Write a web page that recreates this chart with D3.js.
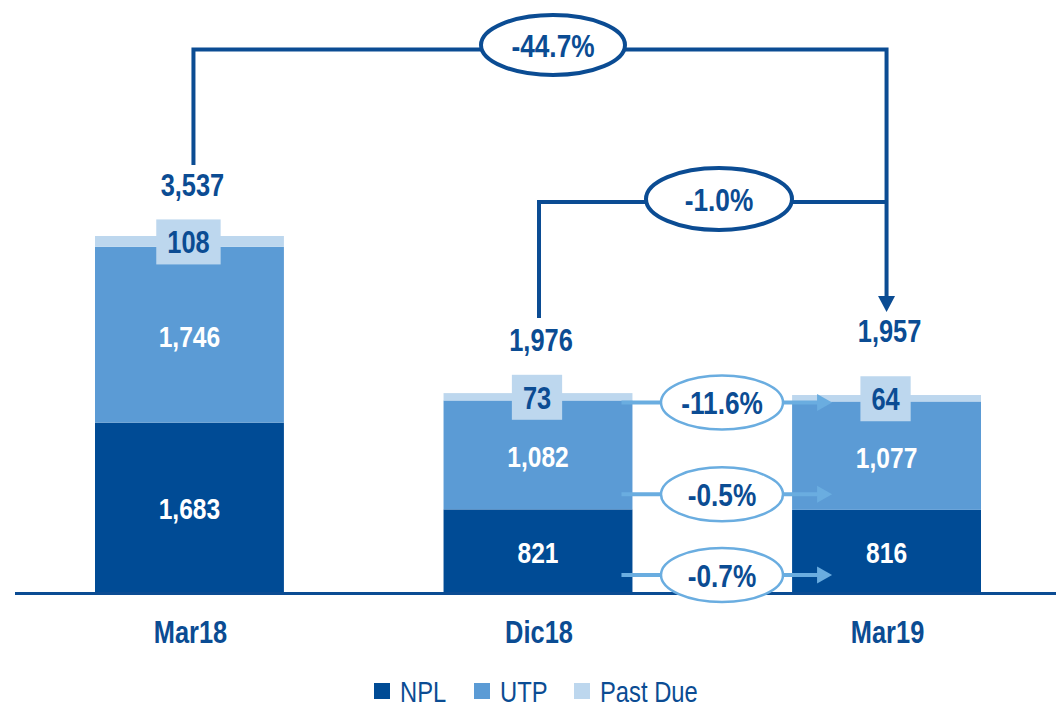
<!DOCTYPE html>
<html>
<head>
<meta charset="utf-8">
<script src="https://cdn.jsdelivr.net/npm/d3@7"></script>
<style>
  body { margin: 0; background: #fff; }
  svg text { font-family: "Liberation Sans Narrow", "Arial Narrow", "Liberation Sans", sans-serif; }
</style>
</head>
<body>
<div id="chart"></div>
<script>
//Data
const categories = ["Mar18", "Dic18", "Mar19"];
const npl = [1683, 821, 816];
const utp = [1746, 1082, 1077];
const pastDue = [108, 73, 64];
const totals = [3537, 1976, 1957];
const longChange = "-44.7%";   // Mar18 -> Mar19
const shortChange = "-1.0%";   // Dic18 -> Mar19
const partChanges = ["-11.6%", "-0.5%", "-0.7%"]; // Past Due, UTP, NPL
const seriesNames = ["NPL", "UTP", "Past Due"];

//Styles
const dark = "#0B4C93", mid = "#5B9BD5", light = "#BDD7EE", arrowBlue = "#6AADE0";
const colors = [ "#004B95", mid, light ];
const squeeze = 0.82; // no narrow font installed, so squash text horizontally

let width = 1056, height = 709;
let svg = d3.select("#chart").append("svg")
  .attr("width", width).attr("height", height);

// move x/y into a transform so the text can be squeezed around its anchor
function narrow(sel) {
  sel.each(function() {
    let t = d3.select(this);
    let tx = +t.attr("x"), ty = +t.attr("y");
    t.attr("x", 0).attr("y", 0)
      .attr("transform", "translate(" + tx + "," + ty + ") scale(" + squeeze + ",1)");
  });
}

let x = d3.scaleBand().domain(categories).range([95, 981]).paddingInner(0.458).paddingOuter(0);
let y = d3.scaleLinear().domain([0, 3537]).range([592, 236]);
let cx = c => x(c) + x.bandwidth() / 2;

//Stack
let rows = categories.map((c, i) => ({cat: c, NPL: npl[i], UTP: utp[i], "Past Due": pastDue[i]}));
let stacked = d3.stack().keys(seriesNames)(rows);

svg.append("g").selectAll("g")
  .data(stacked)
  .enter().append("g")
    .attr("fill", (d, i) => colors[i])
  .selectAll("rect")
  .data(d => d)
  .enter().append("rect")
    .attr("x", d => x(d.data.cat))
    .attr("width", x.bandwidth())
    .attr("y", d => y(d[1]))
    .attr("height", d => y(d[0]) - y(d[1]));

//Baseline
svg.append("line")
  .attr("x1", 15).attr("x2", width)
  .attr("y1", y(0) + 1.5).attr("y2", y(0) + 1.5)
  .attr("stroke", dark).attr("stroke-width", 3);

//White labels inside NPL and UTP
[0, 1].forEach(k => {
  svg.append("g").selectAll("text")
    .data(stacked[k])
    .enter().append("text")
      .attr("x", d => cx(d.data.cat))
      .attr("y", d => (y(d[0]) + y(d[1])) / 2 + 12)
      .attr("text-anchor", "middle")
      .attr("fill", "#fff")
      .attr("font-weight", "bold")
      .attr("font-size", 30)
      .text(d => d3.format(",")(d[1] - d[0]))
      .call(narrow);
});

//Past due boxes
let pd = svg.append("g").selectAll("g")
  .data(stacked[2])
  .enter().append("g");
pd.append("rect").attr("fill", light);
pd.append("text")
  .attr("x", d => cx(d.data.cat) - 1)
  .attr("y", d => (y(d[0]) + y(d[1])) / 2 + 12)
  .attr("text-anchor", "middle")
  .attr("fill", dark)
  .attr("font-weight", "bold")
  .attr("font-size", 31)
  .text(d => d3.format(",")(d[1] - d[0]))
  .call(narrow);
pd.each(function(d) {
  let g = d3.select(this);
  let w = g.select("text").node().getComputedTextLength() * squeeze + 22;
  let my = (y(d[0]) + y(d[1])) / 2;
  g.select("rect")
    .attr("x", cx(d.data.cat) - 1 - w / 2).attr("width", w)
    .attr("y", my - 22).attr("height", 45);
});

//Totals
const totalLift = [40, 42, 53];
svg.append("g").selectAll("text")
  .data(totals)
  .enter().append("text")
    .attr("x", (d, i) => cx(categories[i]) + 3)
    .attr("y", (d, i) => y(d) - totalLift[i])
    .attr("text-anchor", "middle")
    .attr("fill", dark)
    .attr("font-weight", "bold")
    .attr("font-size", 31)
    .text(d => d3.format(",")(d))
    .call(narrow);

//Category labels
svg.append("g").selectAll("text")
  .data(categories)
  .enter().append("text")
    .attr("x", d => cx(d) + 1)
    .attr("y", 643)
    .attr("text-anchor", "middle")
    .attr("fill", dark)
    .attr("font-weight", "bold")
    .attr("font-size", 31)
    .text(d => d)
    .call(narrow);

//Top connectors
let xA = cx("Mar18") + 4, xB = cx("Dic18") + 1, xC = cx("Mar19");
svg.append("path")
  .attr("d", `M${xA},165 V49.5 H${xC} V297`)
  .attr("fill", "none").attr("stroke", dark).attr("stroke-width", 4);
svg.append("path")
  .attr("d", `M${xB},318 V202 H${xC}`)
  .attr("fill", "none").attr("stroke", dark).attr("stroke-width", 4);
svg.append("path")
  .attr("d", `M${xC - 8.5},296 L${xC + 8.5},296 L${xC},312 Z`)
  .attr("fill", dark);

function bubble(px, py, rx, ry, label, stroke, sw) {
  svg.append("ellipse")
    .attr("cx", px).attr("cy", py).attr("rx", rx).attr("ry", ry)
    .attr("fill", "#fff").attr("stroke", stroke).attr("stroke-width", sw);
  svg.append("text")
    .attr("x", px).attr("y", py + 12)
    .attr("text-anchor", "middle")
    .attr("fill", dark)
    .attr("font-weight", "bold")
    .attr("font-size", 32)
    .text(label)
    .call(narrow);
}
bubble(553, 45, 72, 30, longChange, dark, 4);
bubble(719, 199, 73, 31, shortChange, dark, 4);

//Component arrows Dic18 -> Mar19
let arrowY = [y(npl[1] + utp[1]) + 2, y(npl[1]) - 15, y(0) - 17];
let aStart = x("Dic18") + x.bandwidth() - 11, aEnd = x("Mar19") + 40;
arrowY.forEach((ay, i) => {
  svg.append("line")
    .attr("x1", aStart).attr("x2", aEnd - 14)
    .attr("y1", ay).attr("y2", ay)
    .attr("stroke", arrowBlue).attr("stroke-width", 4);
  svg.append("path")
    .attr("d", `M${aEnd - 15},${ay - 8.5} L${aEnd},${ay} L${aEnd - 15},${ay + 8.5} Z`)
    .attr("fill", arrowBlue);
  bubble(722, ay, 61, 27, partChanges[i], arrowBlue, 2.5);
});

//Legend
let legend = svg.append("g").selectAll("g")
  .data(seriesNames)
  .enter().append("g")
    .attr("transform", (d, i) => "translate(" + (374 + i * 100) + ",683)");
legend.append("rect")
  .attr("width", 16).attr("height", 16)
  .attr("fill", (d, i) => colors[i]);
legend.append("text")
  .attr("x", 26).attr("y", 18.5)
  .attr("fill", dark)
  .attr("font-size", 29)
  .text(d => d)
  .call(narrow);
</script>
</body>
</html>
